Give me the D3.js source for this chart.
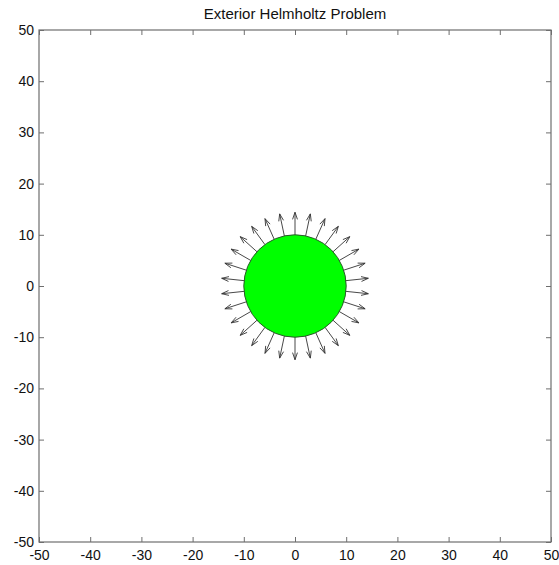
<!DOCTYPE html>
<html lang="en">
<head>
<meta charset="utf-8" />
<title>Exterior Helmholtz Problem</title>
<script src="https://d3js.org/d3.v7.min.js"></script>
<style>
  body { margin: 0; background: #fff; }
  svg { display: block; }
</style>
</head>
<body>
<div id="root"></div>
<script>
// data
const title = "Exterior Helmholtz Problem"
const xDomain = [-50, 50]
const yDomain = [-50, 50]
const xTicks = [-50, -40, -30, -20, -10, 0, 10, 20, 30, 40, 50]
const yTicks = [-50, -40, -30, -20, -10, 0, 10, 20, 30, 40, 50]
const scatterer = { cx: 0, cy: 0, r: 10 }
// normals on the boundary: 30 directions, 12 deg apart, starting at 90 deg
const arrowAngles = [90, 102, 114, 126, 138, 150, 162, 174, 186, 198, 210, 222, 234, 246, 258,
                     270, 282, 294, 306, 318, 330, 342, 354, 6, 18, 30, 42, 54, 66, 78]
const arrowLength = 4.4

const width = 559, height = 565
const margin = { top: 30, right: 8, bottom: 22, left: 39 }

const x = d3.scaleLinear().domain(xDomain).range([margin.left, 551])
const y = d3.scaleLinear().domain(yDomain).range([542, margin.top])

const svg = d3.select("#root").append("svg")
    .attr("width", width)
    .attr("height", height)
    .attr("font-family", "'Liberation Sans', Arial, sans-serif")

// title
svg.append("text")
    .attr("x", (x(xDomain[0]) + x(xDomain[1])) / 2)
    .attr("y", 19)
    .attr("text-anchor", "middle")
    .attr("font-size", 15)
    .attr("fill", "#111")
    .text(title)

// axes (box with inward ticks on all sides)
const axisColor = "#6e6e6e"
const tick = 5
const fmt = d => String(d)   // plain hyphen minus, like the original
function styleAxis(g) {
  g.select(".domain").remove()
  g.selectAll(".tick line").attr("stroke", axisColor)
  g.selectAll(".tick text").attr("fill", "#111").attr("font-size", 14)
}

svg.append("g")
    .attr("transform", `translate(0,${y(yDomain[0])})`)
    .call(d3.axisBottom(x).tickValues(xTicks).tickSize(-tick).tickFormat(fmt))
    .call(styleAxis)
    .selectAll(".tick text").attr("dy", "0.71em").attr("y", 8)

svg.append("g")
    .attr("transform", `translate(${x(xDomain[0])},0)`)
    .call(d3.axisLeft(y).tickValues(yTicks).tickSize(-tick).tickFormat(fmt))
    .call(styleAxis)
    .selectAll(".tick text").attr("x", -5)

svg.append("g")
    .attr("transform", `translate(0,${y(yDomain[1])})`)
    .call(d3.axisTop(x).tickValues(xTicks).tickSize(-tick).tickFormat(""))
    .call(styleAxis)

svg.append("g")
    .attr("transform", `translate(${x(xDomain[1])},0)`)
    .call(d3.axisRight(y).tickValues(yTicks).tickSize(-tick).tickFormat(""))
    .call(styleAxis)

svg.append("rect")
    .attr("x", x(xDomain[0]))
    .attr("y", y(yDomain[1]))
    .attr("width", x(xDomain[1]) - x(xDomain[0]))
    .attr("height", y(yDomain[0]) - y(yDomain[1]))
    .attr("fill", "none")
    .attr("stroke", axisColor)
    .attr("stroke-width", 1.2)

// scatterer
svg.append("ellipse")
    .attr("cx", x(scatterer.cx))
    .attr("cy", y(scatterer.cy))
    .attr("rx", x(scatterer.r) - x(0))
    .attr("ry", y(0) - y(scatterer.r))
    .attr("fill", "#00ff00")
    .attr("stroke", "#2a5a2a")
    .attr("stroke-width", 1)

// outward normal arrows
const arrows = arrowAngles.map(a => {
  const t = a * Math.PI / 180
  return {
    x0: scatterer.cx + scatterer.r * Math.cos(t),
    y0: scatterer.cy + scatterer.r * Math.sin(t),
    x1: scatterer.cx + (scatterer.r + arrowLength) * Math.cos(t),
    y1: scatterer.cy + (scatterer.r + arrowLength) * Math.sin(t)
  }
})

function arrowPath(d) {
  const x0 = x(d.x0), y0 = y(d.y0), x1 = x(d.x1), y1 = y(d.y1)
  const ang = Math.atan2(y1 - y0, x1 - x0)
  const hl = 7.5, ha = 0.33
  const ax = x1 - hl * Math.cos(ang - ha), ay = y1 - hl * Math.sin(ang - ha)
  const bx = x1 - hl * Math.cos(ang + ha), by = y1 - hl * Math.sin(ang + ha)
  return `M${x0},${y0}L${x1},${y1}M${ax},${ay}L${x1},${y1}L${bx},${by}`
}

svg.append("g")
    .attr("fill", "none")
    .attr("stroke", "#333")
    .attr("stroke-width", 0.9)
  .selectAll("path")
  .data(arrows)
  .join("path")
    .attr("d", arrowPath)
</script>
</body>
</html>
